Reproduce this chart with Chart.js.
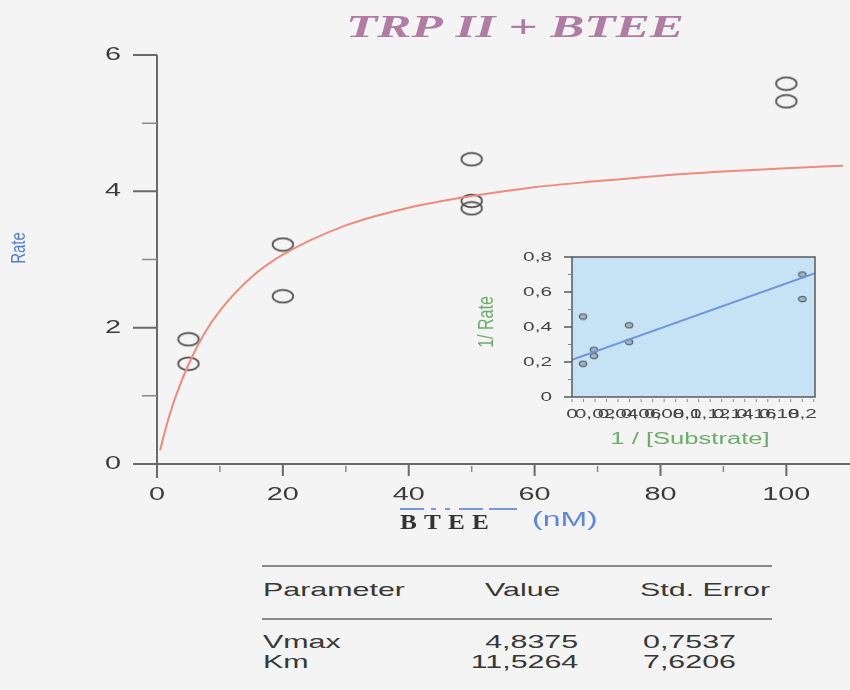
<!DOCTYPE html>
<html lang="en">
<head>
<meta charset="UTF-8">
<title>TRP II + BTEE</title>
<script src="https://cdn.jsdelivr.net/npm/chart.js"></script>
<style>
  body { margin: 0; background: #f4f4f4; }
  #page { position: relative; width: 850px; height: 690px; overflow: hidden; background: #f4f4f4; font-family: "Liberation Sans", Arial, sans-serif; }
  #mainChart { position: absolute; left: 0; top: 0; }
  #insetChart { position: absolute; left: 470px; top: 240px; }
  .rule { position: absolute; left: 262px; width: 510px; height: 2px; background: #8a8a8a; }
  .cell { position: absolute; font-size: 19px; line-height: 20px; color: #383838; white-space: nowrap; transform: scaleX(1.6); transform-origin: left center; }
  .cell.r { transform-origin: right center; }
</style>
</head>
<body>
<div id="page">
  <canvas id="mainChart" width="850" height="560"></canvas>
  <canvas id="insetChart" width="360" height="215"></canvas>
  <div class="rule" style="top:565px"></div>
  <div class="rule" style="top:618px"></div>
  <div id="table"></div>
</div>

<script>
// main plot : rate vs [BTEE] (nM)
const substrate = [5, 5, 20, 20, 50, 50, 50, 100, 100];
const rate = [1.83, 1.47, 3.22, 2.46, 4.47, 3.86, 3.75, 5.58, 5.32];

// fitted Michaelis-Menten curve
const fitX = [0.5, 1, 2, 3, 5, 7.5, 10, 15, 20, 30, 40, 50, 60, 70, 80, 90, 100, 110];
const fitY = [0.20, 0.39, 0.72, 1.00, 1.46, 1.91, 2.25, 2.74, 3.07, 3.50, 3.76, 3.93, 4.06, 4.15, 4.23, 4.29, 4.34, 4.38];

const xTicks = [0, 20, 40, 60, 80, 100];
const xMinor = [10, 30, 50, 70, 90];
const yTicks = [0, 2, 4, 6];
const yMinor = [1, 3, 5];

// inset : Lineweaver-Burk
const invS = [0.0095, 0.0095, 0.019, 0.019, 0.0495, 0.0495, 0.2, 0.2];
const invRate = [0.46, 0.19, 0.27, 0.235, 0.41, 0.315, 0.70, 0.56];
const lbX = [0, 0.211];
const lbY = [0.213, 0.707];
const inTicksX = [0, 0.02, 0.04, 0.06, 0.08, 0.1, 0.12, 0.14, 0.16, 0.18, 0.2];
const inLabelsX = ['0', '0,02', '0,04', '0,06', '0,08', '0,1', '0,12', '0,14', '0,16', '0,18', '0,2'];
const inTicksY = [0, 0.2, 0.4, 0.6, 0.8];
const inLabelsY = ['0', '0,2', '0,4', '0,6', '0,8'];
const inMinorY = [0.1, 0.3, 0.5, 0.7];

// table
const params = ['Vmax', 'Km'];
const values = ['4,8375', '11,5264'];
const errors = ['0,7537', '7,6206'];

const SX = 1.6; // the original picture is stretched horizontally

function sText(ctx, txt, x, y, align, font, color, sx) {
    ctx.save();
    ctx.font = font;
    ctx.fillStyle = color;
    ctx.textAlign = align;
    ctx.textBaseline = 'middle';
    ctx.translate(x, y);
    ctx.scale(sx || SX, 1);
    ctx.fillText(txt, 0, 0);
    ctx.restore();
}

// vertical text, glyph height stretched like the picture
function vText(ctx, txt, x, y, font, color) {
    ctx.save();
    ctx.font = font;
    ctx.fillStyle = color;
    ctx.textAlign = 'center';
    ctx.textBaseline = 'middle';
    ctx.translate(x, y);
    ctx.rotate(-Math.PI / 2);
    ctx.scale(1, 1.35);
    ctx.fillText(txt, 0, 0);
    ctx.restore();
}

// elliptic markers (circles stretched like the rest)
function ring(w, h, lw, stroke, fill) {
    const c = document.createElement('canvas');
    c.width = w; c.height = h;
    const g = c.getContext('2d');
    g.beginPath();
    g.ellipse(w / 2, h / 2, w / 2 - lw, h / 2 - lw, 0, 0, Math.PI * 2);
    if (fill) { g.fillStyle = fill; g.fill(); }
    g.lineWidth = lw;
    g.strokeStyle = stroke;
    g.stroke();
    return c;
}
const ringMain = ring(24, 16, 1.7, '#4e4e4e');
const ringInset = ring(10, 8, 1.3, '#5d6670', '#9fb4c4');

const mainDeco = {
    id: 'mainDeco',
    beforeDatasetsDraw(chart) {
        const ctx = chart.ctx, xs = chart.scales.x, ys = chart.scales.y;
        const x0 = xs.getPixelForValue(0), y0 = ys.getPixelForValue(0);
        ctx.save();
        ctx.strokeStyle = '#6a6a6a';
        ctx.lineWidth = 2;
        ctx.beginPath();
        ctx.moveTo(x0, ys.getPixelForValue(6));
        ctx.lineTo(x0, y0 + 14);
        ctx.moveTo(x0 - 23, y0);
        ctx.lineTo(chart.width, y0);
        yTicks.forEach(v => { const p = ys.getPixelForValue(v); ctx.moveTo(x0 - 24, p); ctx.lineTo(x0, p); });
        xTicks.forEach(v => { const p = xs.getPixelForValue(v); ctx.moveTo(p, y0); ctx.lineTo(p, y0 + 12); });
        ctx.stroke();
        ctx.lineWidth = 1.5;
        ctx.strokeStyle = '#8a8a8a';
        ctx.beginPath();
        yMinor.forEach(v => { const p = ys.getPixelForValue(v); ctx.moveTo(x0 - 15, p); ctx.lineTo(x0, p); });
        xMinor.forEach(v => { const p = xs.getPixelForValue(v); ctx.moveTo(p, y0 + 2); ctx.lineTo(p, y0 + 8); });
        ctx.stroke();
        ctx.restore();

        const tf = '18px "Liberation Sans", Arial, sans-serif';
        yTicks.forEach(v => sText(ctx, String(v), x0 - 36, ys.getPixelForValue(v), 'right', tf, '#3c3c3c'));
        xTicks.forEach(v => sText(ctx, String(v), xs.getPixelForValue(v), y0 + 31, 'center', tf, '#3c3c3c'));

        // titles
        sText(ctx, 'TRP II + BTEE', 515, 29, 'center', 'bold italic 32px "Liberation Serif", serif', '#b07ca3');
        vText(ctx, 'Rate', 19, 248, '15px "Liberation Sans", Arial, sans-serif', '#4f7fd8');

        ctx.save();
        ctx.strokeStyle = '#7499e0';
        ctx.lineWidth = 2;
        ctx.setLineDash([24, 7, 5, 9, 5, 9, 24, 6, 30]);
        ctx.beginPath();
        ctx.moveTo(400, 509);
        ctx.lineTo(517, 509);
        ctx.stroke();
        ctx.restore();
        ctx.save();
        ctx.letterSpacing = '6px';
        sText(ctx, 'BTEE', 400, 524, 'left', 'bold 21px "Liberation Serif", serif', '#333', 1.2);
        ctx.restore();
        sText(ctx, '(nM)', 532, 520, 'left', '20px "Liberation Sans", Arial, sans-serif', '#5b87e0');
    }
};

const insetDeco = {
    id: 'insetDeco',
    beforeDatasetsDraw(chart) {
        const ctx = chart.ctx, a = chart.chartArea;
        ctx.save();
        ctx.fillStyle = '#c6e3f6';
        ctx.fillRect(a.left, a.top, a.right - a.left, a.bottom - a.top);
        ctx.restore();
    },
    afterDatasetsDraw(chart) {
        const ctx = chart.ctx, a = chart.chartArea, xs = chart.scales.x, ys = chart.scales.y;
        ctx.save();
        ctx.lineWidth = 1.5;
        ctx.strokeStyle = '#5a5a5a';
        ctx.strokeRect(a.left, a.top, a.right - a.left, a.bottom - a.top);
        ctx.beginPath();
        inTicksY.forEach(v => { const p = ys.getPixelForValue(v); ctx.moveTo(a.left - 8, p); ctx.lineTo(a.left, p); });
        ctx.stroke();
        ctx.lineWidth = 1;
        ctx.strokeStyle = '#888';
        ctx.beginPath();
        inMinorY.forEach(v => { const p = ys.getPixelForValue(v); ctx.moveTo(a.left - 4, p); ctx.lineTo(a.left - 1, p); });
        for (let i = 0; i <= 21; i++) {
            const p = xs.getPixelForValue(i / 100);
            ctx.moveTo(p, a.bottom + 2); ctx.lineTo(p, a.bottom + 5);
        }
        ctx.stroke();
        ctx.restore();

        const tf = '13px "Liberation Sans", Arial, sans-serif';
        inTicksY.forEach((v, i) => sText(ctx, inLabelsY[i], a.left - 20, ys.getPixelForValue(v), 'right', tf, '#444'));
        inTicksX.forEach((v, i) => sText(ctx, inLabelsX[i], xs.getPixelForValue(v), a.bottom + 17, 'center', tf, '#444'));

        vText(ctx, '1/ Rate', 17, 82, '16px "Liberation Sans", Arial, sans-serif', '#6aae6a');
        sText(ctx, '1 / [Substrate]', 220, 200, 'center', '16px "Liberation Sans", Arial, sans-serif', '#6aae6a');
    }
};

new Chart(document.getElementById('mainChart'), {
    type: 'scatter',
    data: {
        datasets: [{
            data: fitX.map((x, i) => ({ x: x, y: fitY[i] })),
            showLine: true,
            borderColor: '#f08a7a',
            borderWidth: 2,
            pointRadius: 0,
            cubicInterpolationMode: 'monotone'
        }, {
            data: substrate.map((x, i) => ({ x: x, y: rate[i] })),
            pointStyle: ringMain,
            pointRadius: 6,
            showLine: false
        }]
    },
    options: {
        responsive: false,
        animation: false,
        layout: { padding: { left: 157, top: 55, right: 0, bottom: 96 } },
        plugins: { legend: { display: false }, tooltip: { enabled: false } },
        scales: {
            x: { type: 'linear', min: 0, max: 109, display: false },
            y: { min: 0, max: 6, display: false }
        }
    },
    plugins: [mainDeco]
});

new Chart(document.getElementById('insetChart'), {
    type: 'scatter',
    data: {
        datasets: [{
            data: lbX.map((x, i) => ({ x: x, y: lbY[i] })),
            showLine: true,
            borderColor: '#6f95dc',
            borderWidth: 2,
            pointRadius: 0
        }, {
            data: invS.map((x, i) => ({ x: x, y: invRate[i] })),
            pointStyle: ringInset,
            pointRadius: 4,
            showLine: false
        }]
    },
    options: {
        responsive: false,
        animation: false,
        layout: { padding: { left: 102, top: 17, right: 15, bottom: 58 } },
        plugins: { legend: { display: false }, tooltip: { enabled: false } },
        scales: {
            x: { type: 'linear', min: 0, max: 0.211, display: false },
            y: { min: 0, max: 0.8, display: false }
        }
    },
    plugins: [insetDeco]
});

// parameter table
const table = document.getElementById('table');
function cell(txt, css, right) {
    const d = document.createElement('div');
    d.className = right ? 'cell r' : 'cell';
    d.textContent = txt;
    d.style.cssText = css;
    table.appendChild(d);
}
cell('Parameter', 'left:263px;top:580px');
cell('Value', 'left:485px;top:580px');
cell('Std. Error', 'left:640px;top:580px');
params.forEach((p, i) => {
    const top = 632 + i * 20;
    cell(p, 'left:263px;top:' + top + 'px');
    cell(values[i], 'right:272px;top:' + top + 'px', true);
    cell(errors[i], 'left:643px;top:' + top + 'px');
});
</script>
</body>
</html>
